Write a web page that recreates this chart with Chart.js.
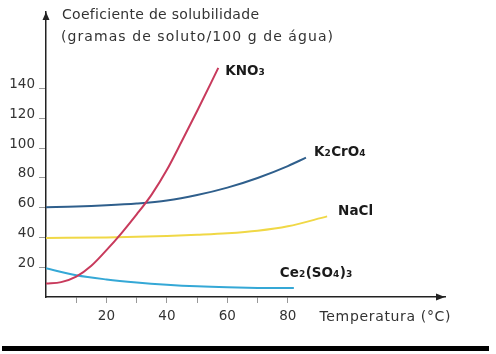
<!DOCTYPE html>
<html>
<head>
<meta charset="utf-8">
<script src="https://cdn.jsdelivr.net/npm/chart.js@4"></script>
<style>
  html, body { margin: 0; padding: 0; background: #fff; }
  canvas { display: block; }
</style>
</head>
<body>
<canvas id="chart" width="496" height="354"></canvas>
<script>
// valores: temperatura (°C) -> g de soluto / 100 g de água
const kno3Temp = [0, 5, 10, 15, 20, 25, 30, 35, 40, 45, 50, 57];
const kno3Sol  = [9, 10, 13.7, 21, 31.5, 43, 55.5, 69, 85.5, 105, 125, 154];

const k2cro4Temp = [0, 10, 20, 30, 40, 50, 60, 70, 80, 86];
const k2cro4Sol  = [60.4, 60.8, 61.6, 62.8, 64.8, 68.5, 73.5, 80, 88, 93.7];

const naclTemp = [0, 20, 40, 50, 60, 70, 80, 93];
const naclSol  = [39.7, 40, 41, 41.8, 42.8, 44.5, 47.5, 54.2];

const ce2Temp = [0, 10, 20, 30, 40, 50, 60, 70, 82];
const ce2Sol  = [19.3, 14.6, 11.8, 9.8, 8.3, 7.2, 6.5, 6.1, 6];

const xTicks = [10, 20, 30, 40, 50, 60, 70, 80];
const xLabels = [20, 40, 60, 80];
const yTicks = [20, 40, 60, 80, 100, 120, 140];

const titleLines = ['Coeficiente de solubilidade', '(gramas de soluto/100 g de água)'];
const xTitle = 'Temperatura (°C)';

// rótulos das curvas, partes [texto, subscrito?]
const seriesLabels = [
  [['KNO', false], ['3', true]],
  [['K', false], ['2', true], ['CrO', false], ['4', true]],
  [['NaCl', false]],
  [['Ce', false], ['2', true], ['(SO', false], ['4', true], [')', false], ['3', true]]
];
const labelShift = [[7, 2], [8, -6.5], [11, -6], [-14, -16]];

const toPoints = (xs, ys) => xs.map((x, i) => ({ x: x, y: ys[i] }));

const FONT = '"DejaVu Sans", Verdana, sans-serif';

function fitText(ctx, text, x, y, width) {
  ctx.letterSpacing = '0px';
  const w = ctx.measureText(text).width;
  const sp = (width - w) / Math.max(1, text.length - 1);
  ctx.letterSpacing = sp.toFixed(2) + 'px';
  ctx.fillText(text, x, y);
  ctx.letterSpacing = '0px';
}

const extras = {
  id: 'extras',
  afterDraw(chart) {
    const ctx = chart.ctx;
    const xs = chart.scales.x, ys = chart.scales.y;
    const left = xs.getPixelForValue(0), bottom = ys.getPixelForValue(0);
    const top = ys.getPixelForValue(ys.max), right = xs.getPixelForValue(xs.max);
    ctx.save();
    // pontas de seta dos eixos
    ctx.fillStyle = '#222';
    ctx.beginPath();
    ctx.moveTo(left, top);
    ctx.lineTo(left - 3.5, top + 8);
    ctx.lineTo(left + 3.5, top + 8);
    ctx.closePath();
    ctx.fill();
    ctx.beginPath();
    ctx.moveTo(right, bottom);
    ctx.lineTo(right - 9, bottom - 3.5);
    ctx.lineTo(right - 9, bottom + 3.5);
    ctx.closePath();
    ctx.fill();

    // títulos
    ctx.fillStyle = '#333';
    ctx.font = '14px ' + FONT;
    ctx.textBaseline = 'middle';
    ctx.textAlign = 'left';
    fitText(ctx, titleLines[0], 62, 15, 197);
    fitText(ctx, titleLines[1], 61, 37.5, 272);
    fitText(ctx, xTitle, 319.5, 317, 131);

    // rótulos das curvas
    ctx.fillStyle = '#1a1a1a';
    ctx.textBaseline = 'alphabetic';
    chart.data.datasets.forEach((ds, i) => {
      const last = ds.data[ds.data.length - 1];
      let x = xs.getPixelForValue(last.x) + labelShift[i][0];
      const base = ys.getPixelForValue(last.y) + labelShift[i][1] + 5;
      seriesLabels[i].forEach(([t, sub]) => {
        ctx.font = (sub ? 'bold 9px ' : 'bold 13.5px ') + FONT;
        ctx.fillText(t, x, base);
        x += ctx.measureText(t).width + (sub ? 0.5 : 0);
      });
    });

    // barra preta inferior
    ctx.fillStyle = '#000';
    ctx.fillRect(2, 346, 487, 5);
    ctx.restore();
  }
};

new Chart(document.getElementById('chart'), {
  type: 'scatter',
  data: {
    datasets: [
      { label: 'KNO3', data: toPoints(kno3Temp, kno3Sol), borderColor: '#c83a5c' },
      { label: 'K2CrO4', data: toPoints(k2cro4Temp, k2cro4Sol), borderColor: '#2f5f8c' },
      { label: 'NaCl', data: toPoints(naclTemp, naclSol), borderColor: '#f0d846' },
      { label: 'Ce2(SO4)3', data: toPoints(ce2Temp, ce2Sol), borderColor: '#35a8d6' }
    ].map(d => Object.assign(d, {
      showLine: true,
      borderWidth: 2,
      pointRadius: 0,
      cubicInterpolationMode: 'monotone',
      fill: false
    }))
  },
  options: {
    responsive: false,
    animation: false,
    events: [],
    layout: { padding: { left: 0, right: 51, top: 10, bottom: 0 } },
    plugins: { legend: { display: false }, tooltip: { enabled: false } },
    scales: {
      x: {
        type: 'linear',
        min: 0,
        max: 132,
        afterFit: s => { s.height = 57; },
        afterBuildTicks: s => { s.ticks = xTicks.map(v => ({ value: v })); },
        border: { display: true, color: '#222', width: 1.5 },
        grid: { drawOnChartArea: false, drawTicks: true, tickLength: 6, tickColor: '#999' },
        ticks: {
          color: '#333',
          font: { family: FONT, size: 13.5 },
          padding: 5,
          maxRotation: 0,
          autoSkip: false,
          callback: v => xLabels.includes(v) ? String(v) : ''
        }
      },
      y: {
        type: 'linear',
        min: 0,
        max: 191.5,
        afterFit: s => { s.width = 46; },
        afterBuildTicks: s => { s.ticks = yTicks.map(v => ({ value: v })); },
        border: { display: true, color: '#222', width: 1.5 },
        grid: { drawOnChartArea: false, drawTicks: true, tickLength: 7, tickColor: '#999' },
        ticks: {
          color: '#333',
          font: { family: FONT, size: 13.5 },
          padding: 4,
          labelOffset: -4,
          autoSkip: false,
          callback: v => String(v)
        }
      }
    }
  },
  plugins: [extras]
});
</script>
</body>
</html>
